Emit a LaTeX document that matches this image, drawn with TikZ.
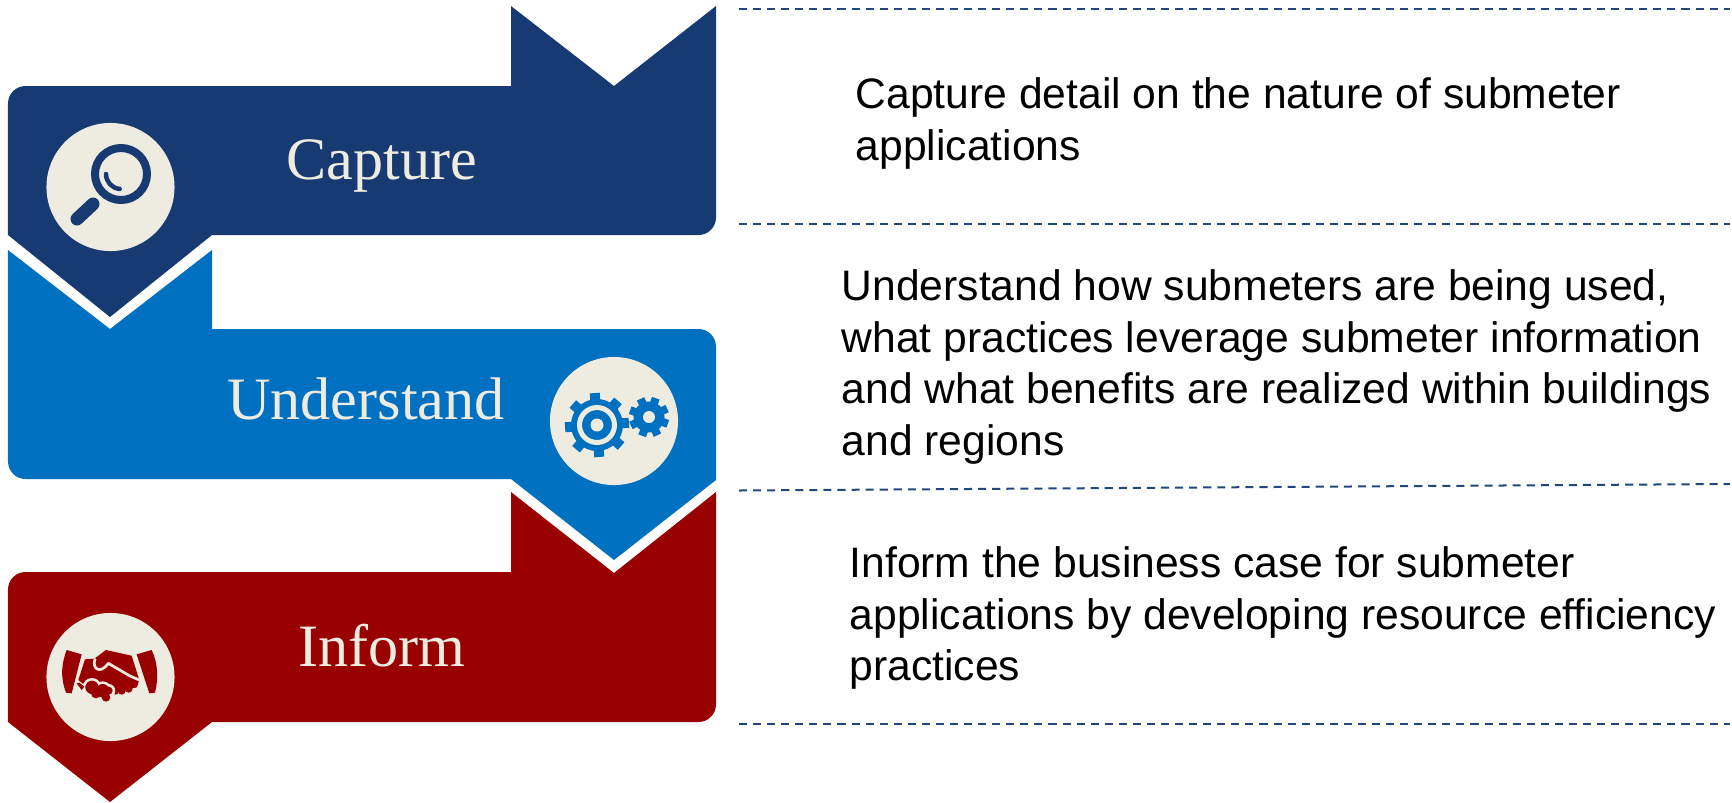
\documentclass[tikz,border=0pt]{standalone}
\usepackage{fontspec}
\setmainfont{Liberation Sans}
\newfontfamily\titlefont{Liberation Serif}
\definecolor{navyband}{HTML}{173A72}
\definecolor{blueband}{HTML}{0070C0}
\definecolor{redband}{HTML}{990000}
\definecolor{creamdisc}{HTML}{EEECE1}
\definecolor{dashline}{HTML}{1F497D}

\begin{document}
\begin{tikzpicture}[x=0.01cm,y=-0.01cm]

\tikzset{
  band/.style={rounded corners=1.75mm},
  disc/.style={circle,fill=creamdisc,minimum size=1.28cm,inner sep=0pt},
  bandtitle/.style={text=creamdisc,font=\titlefont\fontsize{17.1}{20}\selectfont},
  blurb/.style={align=left,anchor=north west,inner sep=0pt,font=\fontsize{12.12}{14.7}\selectfont},
  rule/.style={dashline,line width=0.57pt,dash pattern=on 2.3pt off 1.7pt}
}

\useasboundingbox (0,0) rectangle (1732,802);

% Draw the three bands
\fill[navyband] (511,6) -- (614,86) -- (716,6) [band] -- (716,235) [sharp corners] -- (212,235) -- (110,317) -- (8,235) [band] -- (8,86) [sharp corners] -- (511,86) -- cycle;
\fill[blueband] (8,250) -- (110,329) -- (212,250) -- (212,329) [band] -- (716,329) [sharp corners] -- (716,480) -- (614,560) -- (511,479) [band] -- (8,479) [sharp corners] -- cycle;
\fill[redband] (511,492) -- (614,573) -- (716,492) [band] -- (716,722) [sharp corners] -- (212,722) -- (110,802) -- (8,722) [band] -- (8,572) [sharp corners] -- (511,572) -- cycle;

% Draw the discs and band titles
\node[disc] (d1) at (110.5,187) {};
\node[disc] (d2) at (614,421) {};
\node[disc] (d3) at (110.5,677) {};
\node[bandtitle] (t1) at (382,166) {Capture};
\node[bandtitle] (t2) at (366,399) {Understand};
\node[bandtitle] (t3) at (382,646) {Inform};

% Magnifier
\draw[navyband,line width=0.08cm] (121,174) circle (26);
\draw[navyband,line width=0.045cm,line cap=round] (106,174) arc (180:95:15);
\draw[navyband,line width=0.13cm,line cap=round] (93,204) -- (77,219);

% Gears
\foreach \a in {86,131,...,401}
  \draw[blueband,line width=0.1cm] ([shift={(597,425)}] \a:24) -- ([shift={(597,425)}] \a:32);
\fill[blueband] (597,425) circle (26);
\draw[creamdisc,line width=0.05cm] (597,425) circle (17.5);
\fill[creamdisc] (597,425) circle (6.5);
\foreach \a in {20,65,...,335}
  \draw[blueband,line width=0.08cm] ([shift={(649,417)}] \a:13) -- ([shift={(649,417)}] \a:20);
\fill[blueband] (649,417) circle (15.5);
\fill[creamdisc] (649,417) circle (6);

% Handshake
\begin{scope}[shift={(30,600)},scale=0.3333]
  \fill[redband] (110,150) -- (155,163) -- (125,280) -- (108,278) .. controls (90,230) and (95,190) .. cycle;
  \fill[redband] (320,163) -- (365,150) .. controls (385,190) and (385,240) .. (375,278) -- (358,280) -- cycle;
  \fill[redband] (165,178) -- (193,176) -- (228,150) -- (305,167) -- (328,240) -- (320,262) -- (250,275) -- (200,250) -- (170,260) -- (145,240) -- cycle;
  \foreach \x/\y/\r in {312/252/12,296/266/12,275/272/12,256/274/10}
    \fill[redband] (\x,\y) circle (\r);
  \draw[creamdisc,line width=0.027cm,line cap=round,line join=round] (195,178) .. controls (185,205) and (210,225) .. (235,190) -- (300,228) -- (328,240);
  \foreach \x/\y/\r in {186/262/20,198/280/15,218/272/20,228/292/13,236/272/12}
    \fill[creamdisc] (\x,\y) circle (\r+8);
  \foreach \x/\y/\r in {186/262/20,198/280/15,218/272/20,228/292/13,236/272/12}
    \fill[redband] (\x,\y) circle (\r);
  \fill[redband] (140,250) -- (148,248) -- (163,260) -- (155,270) -- cycle;
\end{scope}

% Text beside the bands
\node[blurb] (b1) at (855,77) {Capture detail on the nature of submeter\\applications};
\node[blurb] (b2) at (841,269) {Understand how submeters are being used,\\what practices leverage submeter information\\and what benefits are realized within buildings\\and regions};
\node[blurb] (b3) at (849,546) {Inform the business case for submeter\\applications by developing resource efficiency\\practices};

% Dashed rules
\coordinate (r1a) at (739,9);
\coordinate (r1b) at (1730,9);
\coordinate (r2a) at (739,224);
\coordinate (r2b) at (1730,224);
\coordinate (r3a) at (739,490.5);
\coordinate (r3b) at (1730,484);
\coordinate (r4a) at (739,723.5);
\coordinate (r4b) at (1730,723.5);
\foreach \x in {1,...,4}
  \draw[rule] (r\x a) -- (r\x b);

\end{tikzpicture}
\end{document}
